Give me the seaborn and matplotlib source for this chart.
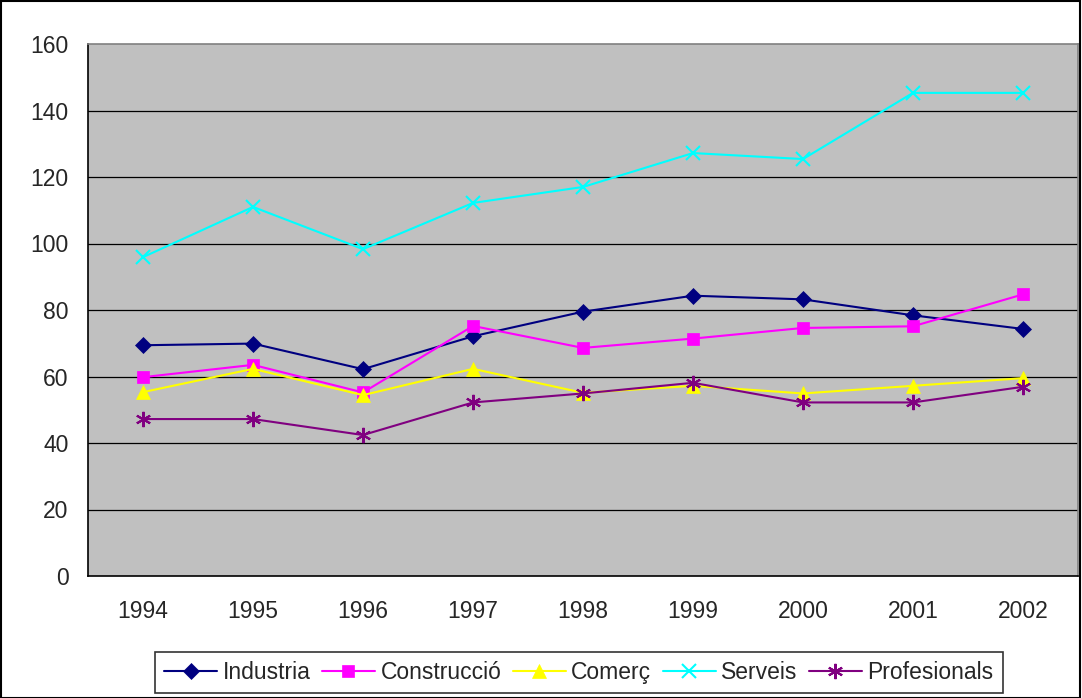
import numpy as np
import pandas as pd
import matplotlib
matplotlib.use('Agg')
import matplotlib.pyplot as plt
import seaborn as sns
from matplotlib.patches import Rectangle

# years on the x axis
years = ['1994', '1995', '1996', '1997', '1998', '1999', '2000', '2001', '2002']
# values
industria = [69.4, 69.9, 62.2, 72.1, 79.5, 84.3, 83.2, 78.4, 74.3]
construccio = [59.8, 63.5, 55.2, 75.2, 68.6, 71.4, 74.6, 75.1, 84.7]
comerc = [55.3, 62.3, 54.4, 62.3, 55.1, 57.2, 54.9, 57.2, 59.5]
serveis = [95.9, 111.0, 98.3, 112.2, 117.0, 127.2, 125.4, 145.3, 145.3]
profesionals = [47.2, 47.2, 42.4, 52.2, 54.9, 58.1, 52.2, 52.2, 56.9]

series = ['Industria', 'Construcció', 'Comerç', 'Serveis', 'Profesionals']
colors = ['#000080', '#FF00FF', '#FFFF00', '#00FFFF', '#800080']
markers = ['D', 's', '^', 'x', (6, 2, 0)]
msizes = [8, 8, 10, 10, 11]

df = pd.DataFrame({'year': years, 'Industria': industria, 'Construcció': construccio,
                   'Comerç': comerc, 'Serveis': serveis, 'Profesionals': profesionals})
df['pos'] = np.arange(len(years))
long = df.melt(id_vars=['year', 'pos'], value_vars=series, var_name='serie', value_name='valor')

sns.set_style('white')
plt.rcParams['font.family'] = ['Liberation Sans', 'DejaVu Sans']
fs = 16.5

fig = plt.figure(figsize=(10.82, 6.98), dpi=100)
ax = fig.add_axes([88/1082, 1-576/698, (1078-88)/1082, (576-44)/698])
ax.set_facecolor('#C0C0C0')

for name, col, mk, ms in zip(series, colors, markers, msizes):
    sub = long[long['serie'] == name]
    sns.lineplot(data=sub, x='pos', y='valor', ax=ax, color=col, marker=mk,
                 markersize=ms, markeredgecolor=col, markeredgewidth=1.5 if mk in ('x', (6, 2, 0)) else 0.5,
                 linewidth=1.5, label=name, zorder=3)

ax.set_xlim(-0.5, len(years) - 0.5)
ax.set_ylim(0, 160)
ax.set_yticks(range(0, 161, 20))
ax.set_xticks(np.arange(len(years)))
ax.set_xticklabels(years)
ax.set_xticks(np.arange(-0.5, len(years), 1), minor=True)
ax.tick_params(axis='x', which='major', length=0, pad=17, labelsize=fs)
ax.tick_params(axis='x', which='minor', length=6, width=1, color='black', direction='out')
ax.tick_params(axis='y', length=6, width=1, color='black', direction='out', pad=8, labelsize=fs)
ax.set_xlabel('')
ax.set_ylabel('')
for y in range(20, 160, 20):
    ax.axhline(y, color='black', lw=0.9, zorder=1)

ax.spines['left'].set_color('black')
ax.spines['bottom'].set_color('black')
ax.spines['top'].set_color('#808080')
ax.spines['right'].set_color('#808080')
for s in ax.spines.values():
    s.set_linewidth(1.2)

ax.legend_.remove()
handles, labels = ax.get_legend_handles_labels()
leg = fig.legend(handles, labels, loc='lower center', bbox_to_anchor=(579/1082, 5/698),
                 ncol=5, frameon=True, fancybox=False, edgecolor='black', fontsize=fs,
                 handlelength=2.3, handletextpad=0.25, columnspacing=0.5, borderpad=0.4,
                 borderaxespad=0)
leg.get_frame().set_linewidth(1.2)

fig.add_artist(Rectangle((0.0005, 0.0007), 0.998, 0.998, transform=fig.transFigure,
                         fill=False, ec='black', lw=1.5))

fig.savefig('out.png', dpi=100)
